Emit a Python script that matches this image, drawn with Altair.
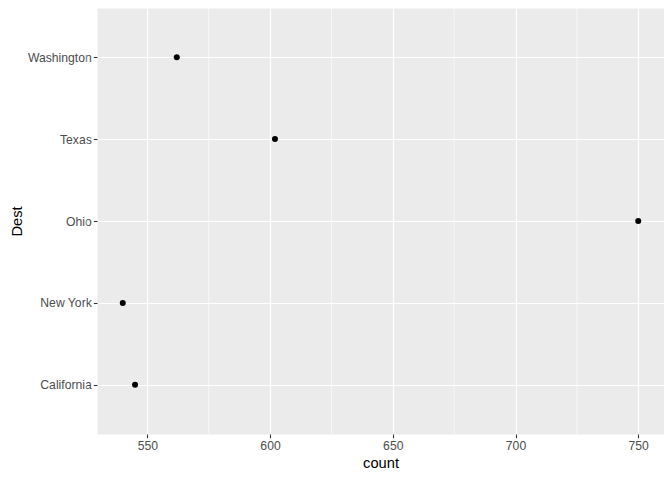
import altair as alt
import pandas as pd

dest = ["California", "New York", "Ohio", "Texas", "Washington"]
counts = [545, 540, 750, 602, 562]
major_breaks = [550, 600, 650, 700, 750]
minor_breaks = [525, 575, 625, 675, 725]

df = pd.DataFrame({"Dest": dest, "count": counts})
minor = pd.DataFrame({"count": minor_breaks})

font = "Liberation Sans"
xscale = alt.Scale(domain=[529.5, 760.5], nice=False, zero=False)
yscale = alt.Scale(type="point", domain=dest[::-1], padding=0.6)

xaxis = alt.Axis(values=major_breaks, title="count", grid=True, gridColor="white",
                 gridWidth=1.2, domain=False, tickColor="#333333", tickSize=3.7,
                 tickWidth=1.1, labelColor="#4D4D4D", labelFontSize=12.2, labelFont=font,
                 labelPadding=2, titleFont=font, titleFontSize=14.7, titleColor="black",
                 titleFontWeight="normal", titlePadding=4)
yaxis = alt.Axis(title="Dest", grid=True, gridColor="white", gridWidth=1.2, domain=False,
                 tickColor="#333333", tickSize=3.7, tickWidth=1.1, labelColor="#4D4D4D",
                 labelFontSize=12.2, labelFont=font, labelPadding=2, titleFont=font,
                 titleFontSize=14.7, titleColor="black", titleFontWeight="normal",
                 titlePadding=3)

rules = alt.Chart(minor).mark_rule(color="white", strokeWidth=0.6).encode(
    x=alt.X("count:Q", scale=xscale, axis=xaxis)
)

points = alt.Chart(df).mark_circle(size=36, color="black", opacity=1).encode(
    x=alt.X("count:Q", scale=xscale, axis=xaxis),
    y=alt.Y("Dest:N", scale=yscale, axis=yaxis),
)

chart = alt.layer(rules, points).properties(
    width=567, height=426,
    autosize=alt.AutoSizeParams(type="none"),
    padding={"left": 89, "top": 0, "right": 0, "bottom": 38},
    background="white",
).configure_view(fill="#EBEBEB", stroke="transparent")

chart.save("out.html", embed_options={"renderer": "svg", "actions": False})
